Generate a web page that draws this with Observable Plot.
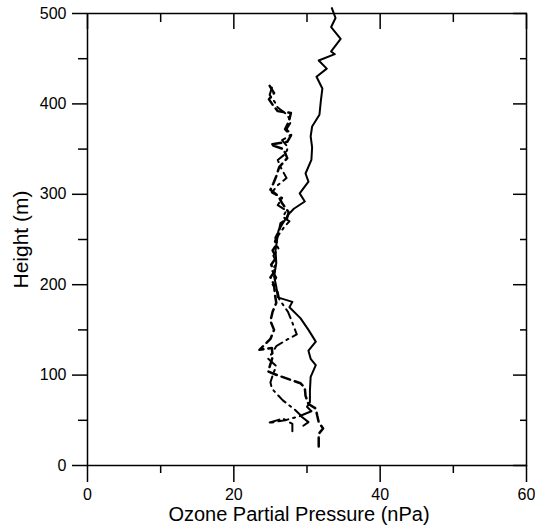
<!DOCTYPE html>
<html>
<head>
<meta charset="utf-8">
<script src="https://cdn.jsdelivr.net/npm/d3@7"></script>
<script src="https://cdn.jsdelivr.net/npm/@observablehq/plot@0.6"></script>
<style>
  html, body { margin: 0; padding: 0; background: #fff; }
</style>
</head>
<body>
<div id="chart"></div>
<script>
// Solid profile
const solidPressure = [33.4,33.9,33.3,34.6,33.3,33.8,31.6,32.7,31.3,32.1,31.9,31.7,30.7,30.5,30.7,30.6,29.8,30.2,29.0,29.7,28.2,27.5,26.7,26.1,25.9,25.7,25.8,25.5,25.8,26.0,28.0,27.6,29.1,30.2,31.2,30.2,30.5,31.2,30.5,30.4,30.4,30.0,30.6,29.1,30.2,29.5];
const solidHeight   = [506,495,485,472,458,455,448,439,430,417,404,388,375,364,352,338,323,314,301,292,284,278,268,260,249,238,224,209,198,186,181,175,163,150,137,127,118,111,98,83,70,65,60,55,48,44];

// Dashed profile
const dashPressure = [24.9,25.5,24.8,25.4,26.0,27.8,27.5,27.0,27.8,27.3,25.0,26.8,27.3,26.2,25.8,25.4,25.0,26.1,26.6,27.5,27.2,26.4,26.2,25.7,25.9,25.3,25.8,25.1,25.6,25.0,25.5,25.6,25.8,25.3,25.0,25.5,25.0,23.5,25.2,25.3,24.7,25.9,29.1,29.7,29.8,30.2,31.2,31.4,31.6,32.2,31.6,31.6,31.6];
const dashHeight   = [420,412,405,398,392,390,380,372,365,358,355,350,340,330,320,312,305,298,290,280,272,268,260,252,245,238,230,222,215,208,200,190,180,170,160,150,140,128,130,120,104,100,91,86,77,68,63,55,48,41,35,28,20];

// Dash-dot profile
const dotPressure = [25.2,24.9,25.6,26.0,27.3,27.8,27.2,27.9,26.6,27.4,27.1,26.0,26.4,27.2,26.0,25.2,26.6,26.0,27.2,26.7,27.6,26.9,26.2,25.6,26.1,25.4,25.9,25.2,25.8,25.3,26.0,26.2,27.4,28.0,28.6,27.0,25.8,25.2,24.7,25.8,25.4,25.0,25.2,26.7,28.3,29.2,27.0,24.7,26.7,28.0,28.0];
const dotHeight   = [418,410,402,396,388,380,372,366,360,352,345,338,330,318,310,302,296,288,282,275,270,264,256,248,240,232,224,216,208,200,192,184,170,158,145,138,132,124,118,110,102,92,85,72,62,55,50,47,52,46,37];

// Axis ticks
const xMajor = [0, 20, 40, 60];
const xMinor = [10, 30, 50];
const yMajor = [0, 100, 200, 300, 400, 500];
const yMinor = [50, 150, 250, 350, 450];

const toRows = (xs, ys) => xs.map((x, i) => ({x, y: ys[i]}));
const solid = toRows(solidPressure, solidHeight);
const dashed = toRows(dashPressure, dashHeight);
const dashdot = toRows(dotPressure, dotHeight);

const chart = Plot.plot({
  width: 535,
  height: 531,
  marginLeft: 87,
  marginRight: 9,
  marginTop: 13,
  marginBottom: 66,
  style: {fontFamily: "'Liberation Sans', Arial, sans-serif", fontSize: "16px", color: "#000", background: "#fff", overflow: "visible"},
  x: {domain: [0, 60]},
  y: {domain: [0, 500]},
  marks: [
    Plot.axisX({ticks: xMajor, tickSize: 17, tickPadding: 6, tickFormat: d => String(d), label: null, strokeWidth: 1.5, fontSize: 16}),
    Plot.axisX({ticks: xMinor, tickSize: 8, text: null, label: null, strokeWidth: 1.5}),
    Plot.axisX({anchor: "top", ticks: xMajor, tickSize: -15, text: null, label: null, strokeWidth: 1.5}),
    Plot.axisX({anchor: "top", ticks: xMinor, tickSize: -8, text: null, label: null, strokeWidth: 1.5}),
    Plot.axisY({ticks: yMajor, tickSize: 15, tickPadding: 6, tickFormat: d => String(d), label: null, strokeWidth: 1.5, fontSize: 16}),
    Plot.axisY({ticks: yMinor, tickSize: 9, text: null, label: null, strokeWidth: 1.5}),
    Plot.axisY({anchor: "right", ticks: yMajor, tickSize: -14, text: null, label: null, strokeWidth: 1.5}),
    Plot.axisY({anchor: "right", ticks: yMinor, tickSize: -7, text: null, label: null, strokeWidth: 1.5}),
    Plot.frame({stroke: "#000", strokeWidth: 1.5}),
    Plot.line(solid, {x: "x", y: "y", stroke: "#000", strokeWidth: 2, curve: "linear"}),
    Plot.line(dashed, {x: "x", y: "y", stroke: "#000", strokeWidth: 2.5, strokeDasharray: "9,5"}),
    Plot.line(dashdot, {x: "x", y: "y", stroke: "#000", strokeWidth: 2, strokeDasharray: "10,5,2,5"}),
    Plot.text(["Ozone Partial Pressure (nPa)"], {frameAnchor: "bottom", dy: 55, dx: -8, fontSize: 20, fill: "#000", textAnchor: "middle"}),
    Plot.text(["Height (m)"], {frameAnchor: "left", dx: -66, rotate: -90, fontSize: 21, fill: "#000", textAnchor: "middle"})
  ]
});
document.getElementById("chart").appendChild(chart);
</script>
</body>
</html>
